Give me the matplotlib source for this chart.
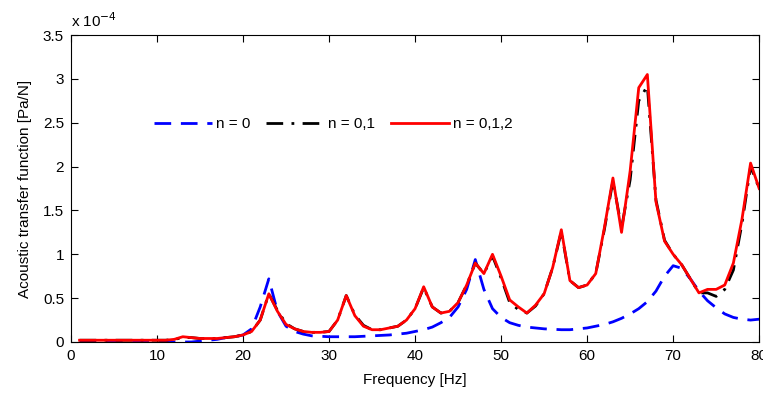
import numpy as np
import matplotlib.pyplot as plt

plt.rcParams['font.family'] = ['Liberation Sans', 'DejaVu Sans']

freq = list(range(1, 81))

# n = 0 (units of 1e-4 Pa/N)
n0 = [0.0, 0.0, 0.0, 0.0, 0.0, 0.0, 0.0, 0.0, 0.0, 0.0,
      0.0, 0.0, 0.0, 0.0, 0.01, 0.02, 0.03, 0.05, 0.06, 0.08,
      0.15, 0.4, 0.72, 0.35, 0.18, 0.12, 0.09, 0.07, 0.065, 0.06,
      0.06, 0.06, 0.06, 0.065, 0.07, 0.075, 0.08, 0.09, 0.1, 0.12,
      0.14, 0.17, 0.22, 0.28, 0.4, 0.6, 0.94, 0.6, 0.38, 0.28,
      0.22, 0.19, 0.17, 0.16, 0.15, 0.145, 0.14, 0.14, 0.15, 0.16,
      0.18, 0.2, 0.23, 0.27, 0.32, 0.38, 0.46, 0.58, 0.75, 0.87,
      0.84, 0.72, 0.58, 0.47, 0.39, 0.32, 0.28, 0.26, 0.25, 0.26]

# n = 0,1,2
n012 = [0.02, 0.02, 0.02, 0.02, 0.02, 0.02, 0.02, 0.02, 0.02, 0.02,
        0.02, 0.03, 0.06, 0.05, 0.04, 0.04, 0.04, 0.05, 0.06, 0.08,
        0.12, 0.25, 0.55, 0.35, 0.2, 0.15, 0.12, 0.11, 0.11, 0.12,
        0.25, 0.53, 0.3, 0.18, 0.14, 0.14, 0.16, 0.18, 0.25, 0.38,
        0.63, 0.4, 0.33, 0.35, 0.45, 0.65, 0.9, 0.78, 1.0, 0.75,
        0.48, 0.4, 0.33, 0.42, 0.55, 0.85, 1.28, 0.7, 0.62, 0.65,
        0.78, 1.3, 1.87, 1.25, 1.95, 2.9, 3.05, 1.6, 1.15, 1.0,
        0.88, 0.72, 0.56, 0.6, 0.6, 0.65, 0.9, 1.4, 2.04, 1.75]

# n = 0,1 (nearly the same as n = 0,1,2)
n01 = [0.02, 0.02, 0.02, 0.02, 0.02, 0.02, 0.02, 0.02, 0.02, 0.02,
       0.02, 0.03, 0.05, 0.05, 0.04, 0.04, 0.04, 0.05, 0.06, 0.08,
       0.12, 0.25, 0.55, 0.36, 0.21, 0.15, 0.12, 0.11, 0.11, 0.12,
       0.25, 0.53, 0.31, 0.19, 0.14, 0.14, 0.16, 0.18, 0.25, 0.38,
       0.62, 0.4, 0.33, 0.35, 0.45, 0.65, 0.9, 0.78, 0.98, 0.73,
       0.45, 0.37, 0.33, 0.41, 0.55, 0.85, 1.26, 0.7, 0.62, 0.65,
       0.78, 1.28, 1.84, 1.3, 1.85, 2.75, 2.92, 1.62, 1.16, 1.0,
       0.88, 0.72, 0.56, 0.56, 0.52, 0.6, 0.82, 1.35, 2.0, 1.75]

yticks = [0, 0.5, 1, 1.5, 2, 2.5, 3, 3.5]
ytick_labels = ['0', '0.5', '1', '1.5', '2', '2.5', '3', '3.5']

fig = plt.figure(figsize=(7.63, 3.94), dpi=100)
ax = fig.add_axes([0.093, 0.132, 0.902, 0.779])

ax.plot(freq, n0, color='#0000ff', linestyle=(0, (6, 3.5)), linewidth=2, label='n = 0')
ax.plot(freq, n01, color='black', linestyle=(0, (6, 3, 1, 3)), linewidth=2, label='n = 0,1')
ax.plot(freq, n012, color='#ff0000', linestyle='-', linewidth=2, label='n = 0,1,2')

ax.set_xlim(0, 80)
ax.set_ylim(0, 3.5)
ax.set_xticks(range(0, 81, 10))
ax.set_yticks(yticks)
ax.set_yticklabels(ytick_labels)
ax.tick_params(direction='in', top=True, right=True, labelsize=11, length=5, pad=5)
ax.set_xlabel('Frequency [Hz]', fontsize=11, labelpad=7)
ax.set_ylabel('Acoustic transfer function [Pa/N]', fontsize=11, labelpad=8)
ax.text(0.0, 1.015, r'x 10$^{-4}$', transform=ax.transAxes, fontsize=11,
        ha='left', va='bottom')

ax.legend(loc='center left', bbox_to_anchor=(0.1, 0.71), ncol=3, frameon=False,
          handlelength=3.8, handletextpad=0.3, columnspacing=1.0, fontsize=11)

fig.savefig('out.png', dpi=100)
